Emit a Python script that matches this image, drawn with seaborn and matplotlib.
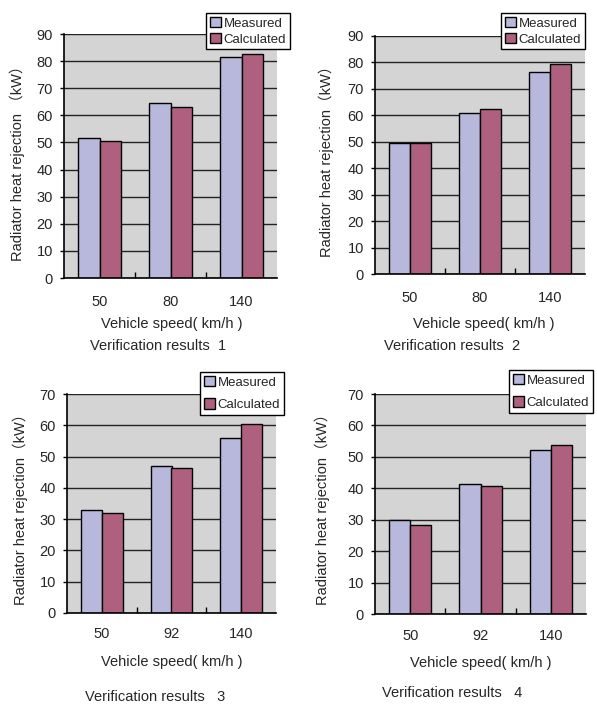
import pandas as pd
import matplotlib
matplotlib.use("Agg")
import matplotlib.pyplot as plt
from matplotlib.ticker import FixedLocator
import seaborn as sns

# data
speeds_1 = ["50", "80", "140"]
measured_1 = [51.8, 64.7, 81.4]
calculated_1 = [50.7, 63.2, 82.5]

speeds_2 = ["50", "80", "140"]
measured_2 = [49.5, 60.7, 76.2]
calculated_2 = [49.5, 62.3, 79.3]

speeds_3 = ["50", "92", "140"]
measured_3 = [33.0, 47.1, 56.0]
calculated_3 = [32.1, 46.2, 60.5]

speeds_4 = ["50", "92", "140"]
measured_4 = [30.0, 41.3, 52.1]
calculated_4 = [28.3, 40.8, 53.9]

series = ["Measured", "Calculated"]
y_max = [90, 90, 70, 70]
captions = ["Verification results  1", "Verification results  2",
            "Verification results   3", "Verification results   4"]
ylabels = ["Radiator heat rejection （kW）", "Radiator heat rejection（kW）",
           "Radiator heat rejection（kW）", "Radiator heat rejection（kW）"]
xlabel = "Vehicle speed( km/h )"

W, H = 597, 704
FONT = ["Liberation Sans", "Noto Sans CJK SC", "DejaVu Sans"]
FS = 10.5

sns.set_style("white")
plt.rcParams["font.family"] = FONT
plt.rcParams["font.size"] = FS

fig = plt.figure(figsize=(W / 100, H / 100), dpi=100)

def px(x, y):
    return x / W, 1 - y / H

# layout in pixels: left, right, top, bottom of plot area
boxes = [(64, 277, 34, 278), (375, 585, 36, 274),
         (67, 276, 394, 613), (375, 586, 394, 614)]
tick_y = [302, 299, 635, 637]
xlab_pos = [(172, 324), (484, 324), (172, 662), (481, 663)]
cap_pos = [(158, 346), (452, 346), (155, 697), (452, 693)]
ylab_pos = [(17, 160), (326, 158), (20, 506), (322, 506)]
legend_pos = [(206, 13), (501, 13), (200, 372), (509, 370)]
legend_gap = [0.25, 0.25, 0.75, 0.75]

panels = [(speeds_1, measured_1, calculated_1),
          (speeds_2, measured_2, calculated_2),
          (speeds_3, measured_3, calculated_3),
          (speeds_4, measured_4, calculated_4)]

colors = ["#B8B8DC", "#B0607F"]

for i, (speeds, meas, calc) in enumerate(panels):
    l, r, t, b = boxes[i]
    ax = fig.add_axes([l / W, 1 - b / H, (r - l) / W, (b - t) / H])
    df = pd.DataFrame({
        "speed": speeds * 2,
        "value": meas + calc,
        "type": [series[0]] * 3 + [series[1]] * 3,
    })
    sns.barplot(data=df, x="speed", y="value", hue="type", hue_order=series,
                palette=colors, width=0.6, gap=0, edgecolor="black",
                linewidth=1, saturation=1, ax=ax)
    ax.set_facecolor("#D4D4D4")
    ax.set_xlim(-0.5, 2.5)
    ax.set_ylim(0, y_max[i])
    ax.set_yticks(range(0, y_max[i] + 1, 10))
    ax.yaxis.grid(True, color="#222222", linewidth=1)
    ax.set_axisbelow(True)
    for s in ["top", "right"]:
        ax.spines[s].set_visible(False)
    for s in ["left", "bottom"]:
        ax.spines[s].set_color("black")
        ax.spines[s].set_linewidth(1.2)
    ax.tick_params(axis="y", length=3, width=1, color="black", pad=5,
                   labelsize=FS, left=True)
    pad_pt = (tick_y[i] - b - 7.5) * 0.72
    ax.tick_params(axis="x", which="major", length=0, pad=pad_pt, labelsize=FS)
    ax.xaxis.set_minor_locator(FixedLocator([0.5, 1.5]))
    ax.tick_params(axis="x", which="minor", direction="in", length=4,
                   width=1, color="black", bottom=True)
    ax.set_xlabel("")
    ax.set_ylabel("")

    fig.text(*px(*xlab_pos[i]), xlabel, ha="center", va="center", fontsize=FS)
    fig.text(*px(*cap_pos[i]), captions[i], ha="center", va="center", fontsize=FS)
    fig.text(*px(*ylab_pos[i]), ylabels[i], ha="center", va="center",
             rotation=90, fontsize=FS)

    ax.get_legend().remove()
    handles, labels = ax.get_legend_handles_labels()
    leg = ax.legend(handles, labels, loc="upper left",
                    bbox_to_anchor=px(*legend_pos[i]),
                    bbox_transform=fig.transFigure, borderaxespad=0,
                    fancybox=False, framealpha=1, edgecolor="black",
                    facecolor="white", fontsize=9.5, handlelength=0.8,
                    handleheight=0.8, handletextpad=0.25, borderpad=0.3,
                    labelspacing=legend_gap[i])
    leg.get_frame().set_linewidth(1)
    leg.set_zorder(10)

fig.savefig("out.png", dpi=100)
